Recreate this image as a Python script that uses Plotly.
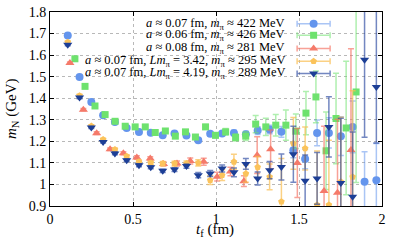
import plotly.graph_objects as go

# ---- data ----
tf_a = [0.107,0.178,0.249,0.320,0.391,0.462,0.536,0.607,0.679,0.750,0.822,0.893,0.965,1.037,1.108,1.180,1.251,1.323,1.394,1.466,1.537,1.609,1.680,1.752,1.823,1.895,1.966]
mn_a = [1.691,1.498,1.382,1.321,1.290,1.262,1.243,1.240,1.228,1.236,1.227,1.205,1.235,1.236,1.239,1.233,1.250,1.255,1.244,1.159,1.118,1.239,1.239,1.224,1.267,1.012,1.020]
er_a = [0.005,0.005,0.005,0.005,0.005,0.006,0.006,0.007,0.007,0.008,0.008,0.009,0.01,0.01,0.012,0.014,0.018,0.02,0.025,0.035,0.045,0.06,0.07,0.09,0.12,0.14,0.17]

tf_b = [0.150,0.211,0.271,0.332,0.392,0.453,0.513,0.574,0.634,0.695,0.755,0.816,0.876,0.937,0.997,1.058,1.118,1.179,1.239,1.300,1.360,1.421,1.481,1.542,1.602,1.663,1.723,1.784,1.844]
mn_b = [1.583,1.455,1.364,1.324,1.293,1.270,1.267,1.267,1.241,1.248,1.224,1.244,1.220,1.267,1.228,1.244,1.218,1.224,1.280,1.267,1.275,1.275,1.247,1.331,1.406,1.156,1.306,1.262,1.429]
er_b = [0.004,0.004,0.004,0.005,0.005,0.005,0.006,0.006,0.007,0.007,0.008,0.009,0.01,0.011,0.012,0.015,0.017,0.02,0.04,0.04,0.05,0.07,0.08,0.10,0.12,0.18,0.21,0.31,0.42]

tf_c = [0.120,0.201,0.281,0.362,0.442,0.523,0.604,0.684,0.765,0.845,0.926,1.007,1.087,1.168,1.248,1.329,1.490,1.651,1.732,1.813]
mn_c = [1.563,1.347,1.238,1.163,1.145,1.125,1.120,1.095,1.097,1.109,1.105,1.036,1.060,1.015,1.136,1.163,1.100,0.970,0.962,1.160]
er_c = [0.005,0.005,0.006,0.006,0.007,0.008,0.009,0.01,0.012,0.014,0.016,0.02,0.02,0.025,0.085,0.09,0.16,0.30,0.34,0.47]

tf_d = [0.107,0.178,0.249,0.320,0.391,0.462,0.536,0.607,0.679,0.750,0.822,0.893,0.965,1.037,1.108,1.180,1.251,1.323,1.394,1.466,1.537,1.609,1.680,1.752,1.823]
mn_d = [1.660,1.412,1.271,1.208,1.162,1.131,1.105,1.100,1.097,1.097,1.097,1.100,1.020,1.043,1.105,1.050,1.080,1.035,0.920,1.190,1.167,0.905,0.905,1.012,1.035]
er_d = [0.006,0.006,0.006,0.006,0.007,0.007,0.008,0.009,0.01,0.011,0.012,0.014,0.02,0.025,0.035,0.04,0.05,0.06,0.2,0.12,0.1,0.25,0.3,0.3,0.4]

tf_e = [0.107,0.178,0.249,0.320,0.391,0.462,0.536,0.607,0.679,0.750,0.822,0.893,0.965,1.037,1.108,1.180,1.251,1.323,1.394,1.466,1.537,1.609,1.680,1.752,1.823,1.895,1.966]
mn_e = [1.648,1.403,1.264,1.197,1.144,1.112,1.089,1.080,1.063,1.069,1.085,1.043,1.051,1.074,1.056,1.095,1.028,1.066,1.081,1.140,1.017,1.028,1.267,1.007,0.943,1.579,1.452]
er_e_up = [0.005,0.005,0.005,0.005,0.006,0.006,0.007,0.007,0.008,0.009,0.01,0.012,0.014,0.016,0.02,0.025,0.03,0.04,0.06,0.13,0.12,0.12,0.14,0.3,0.3,0.36,0.4]
er_e_dn = [0.005,0.005,0.005,0.005,0.006,0.006,0.007,0.007,0.008,0.009,0.01,0.012,0.014,0.016,0.02,0.025,0.03,0.04,0.06,0.13,0.12,0.12,0.14,0.3,0.3,0.36,0.26]

labels = [
    "<i>a</i> ≈ 0.07 fm, <i>m</i><sub>π</sub> ≈ 422 MeV",
    "<i>a</i> ≈ 0.06 fm, <i>m</i><sub>π</sub> ≈ 426 MeV",
    "<i>a</i> ≈ 0.08 fm, <i>m</i><sub>π</sub> ≈ 281 MeV",
    "<i>a</i> ≈ 0.07 fm, <i>Lm</i><sub>π</sub> = 3.42, <i>m</i><sub>π</sub> ≈ 295 MeV",
    "<i>a</i> ≈ 0.07 fm, <i>Lm</i><sub>π</sub> = 4.19, <i>m</i><sub>π</sub> ≈ 289 MeV",
]

x_ticks = [0, 0.5, 1, 1.5, 2]
x_ticktext = ["0", "0.5", "1", "1.5", "2"]
y_ticks = [0.9, 1.0, 1.1, 1.2, 1.3, 1.4, 1.5, 1.6, 1.7, 1.8]
y_ticktext = ["0.9", "1", "1.1", "1.2", "1.3", "1.4", "1.5", "1.6", "1.7", "1.8"]

x_title = "<i>t</i><sub>f</sub> (fm)"
y_title = "<i>m</i><sub>N</sub> (GeV)"

# ---- styles ----
FONT = "Liberation Serif"
styles = [
    dict(color="#6495ED", err="rgba(100,149,237,0.55)", symbol="circle", size=8),
    dict(color="#6ee26e", err="rgba(110,226,110,0.55)", symbol="square", size=7),
    dict(color="#f57a6a", err="rgba(245,110,95,0.65)", symbol="triangle-up", size=8),
    dict(color="#fbc35b", err="rgba(250,190,80,0.7)", symbol="pentagon", size=7),
    dict(color="#1d3f96", err="rgba(40,70,160,0.65)", symbol="triangle-down", size=8),
]

series = [
    (tf_a, mn_a, er_a, er_a),
    (tf_b, mn_b, er_b, er_b),
    (tf_c, mn_c, er_c, er_c),
    (tf_d, mn_d, er_d, er_d),
    (tf_e, mn_e, er_e_up, er_e_dn),
]

fig = go.Figure()
for (xs, ys, eu, ed), st in zip(series, styles):
    fig.add_trace(go.Scatter(
        x=xs, y=ys, mode="markers",
        marker=dict(color=st["color"], symbol=st["symbol"], size=st["size"], line=dict(width=0)),
        error_y=dict(type="data", array=eu, arrayminus=ed, symmetric=False,
                     color=st["err"], thickness=1.5, width=3),
        showlegend=False, cliponaxis=True, hoverinfo="skip",
    ))

# ---- custom legend (text right-aligned, key on the right) ----
leg_y = [0.940, 0.880, 0.812, 0.746, 0.683]
key_x = 0.794
key_half = 0.0497
text_x = 0.713
for lab, ly, st in zip(labels, leg_y, styles):
    fig.add_trace(go.Scatter(
        x=[key_x], y=[ly], xaxis="x2", yaxis="y2", mode="markers",
        marker=dict(color=st["color"], symbol=st["symbol"], size=st["size"], line=dict(width=0)),
        error_x=dict(type="data", array=[key_half], color=st["err"], thickness=1.5, width=3),
        showlegend=False, hoverinfo="skip",
    ))
    fig.add_annotation(x=text_x, y=ly, xref="paper", yref="paper", text=lab,
                       showarrow=False, xanchor="right", yanchor="middle",
                       font=dict(family=FONT, size=12.5, color="black"))

# axis titles as annotations for exact placement
fig.add_annotation(x=0.497, y=0, xref="paper", yref="paper", text=x_title,
                   showarrow=False, xanchor="center", yanchor="middle", yshift=-24,
                   font=dict(family=FONT, size=15, color="black"))
fig.add_annotation(x=0, y=0.5, xref="paper", yref="paper", text=y_title,
                   showarrow=False, xanchor="center", yanchor="middle", xshift=-38,
                   textangle=-90, font=dict(family=FONT, size=15, color="black"))

axis_common = dict(
    showline=True, linecolor="black", linewidth=1, mirror="ticks",
    ticks="inside", ticklen=4, tickcolor="black",
    showgrid=True, gridcolor="#b8b8b8", griddash="dot", gridwidth=1,
    zeroline=False, automargin=False,
    tickfont=dict(family=FONT, size=14, color="black"),
)

fig.update_layout(
    width=399, height=241,
    margin=dict(l=50, r=17, t=12, b=35),
    paper_bgcolor="white", plot_bgcolor="white",
    font=dict(family=FONT, color="black"),
    xaxis=dict(range=[0, 2], tickvals=x_ticks, ticktext=x_ticktext, **axis_common),
    yaxis=dict(range=[0.9, 1.8], tickvals=y_ticks, ticktext=y_ticktext, **axis_common),
    xaxis2=dict(overlaying="x", range=[0, 1], visible=False),
    yaxis2=dict(overlaying="y", range=[0, 1], visible=False),
    hovermode=False,
)

fig.write_html("out.html", config={"displayModeBar": False, "staticPlot": True},
               post_script="document.body.style.margin='0px';document.body.style.overflow='hidden';")
